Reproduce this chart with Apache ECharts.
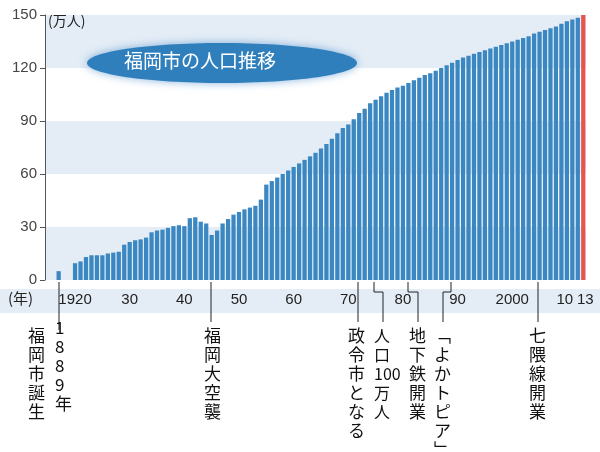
<!DOCTYPE html>
<html><head><meta charset="utf-8">
<script src="https://cdn.jsdelivr.net/npm/echarts@6/dist/echarts.min.js"></script>
<style>body{margin:0}#c{width:600px;height:452px}</style></head>
<body><div id="c"></div>
<script>
// years: two blank slots, 1889, two blank slots (axis break), then 1920-2013
var years = ['', '', '1889', '', ''];
for (var y = 1920; y <= 2013; y++) years.push(String(y));
var pop1889 = 5;
var pop = [9.5, 10.5, 13, 14, 14, 14, 15, 15.5, 16, 20,
  21.5, 22.5, 23, 24, 27, 28, 28.5, 29.5, 30.5, 31,
  30.5, 35, 35.5, 33, 32, 25.5, 28, 32, 34.5, 37,
  38.5, 40, 41, 42, 45.5, 54, 56, 58, 60, 62,
  64, 66, 68, 70, 72, 74.5, 77, 80, 83, 86,
  88, 91, 94.5, 97, 100, 102, 104, 106, 107.5, 109,
  110, 111.5, 113, 114.5, 116, 117, 118.5, 120, 121.5, 123,
  124.5, 126, 127, 128, 129, 130, 131, 132, 133, 134,
  135, 136, 137, 138, 139.5, 140.5, 141.5, 142.5, 143.5, 145,
  146.5, 147.5, 148.5, 150];
var yTicks = [0, 30, 60, 90, 120, 150];

var values = [null, null, pop1889, null, null].concat(pop);
var data = values.map(function (v, i) {
  if (i === values.length - 1) return {value: v, itemStyle: {color: '#e8554e'}};
  return v;
});
function shortLabel(s) {
  var n = +s;
  if (n === 1920 || n === 2000) return s;
  if (n === 2013) return ' 13';
  if (n === 2010) return '10 ';
  if (n > 1920 && n % 10 === 0) return s.slice(2);
  return '';
}

var chart = echarts.init(document.getElementById('c'));
var vtext = function (t) { return t.split('').join('\n'); };
var ann = {fontSize: 17, fill: '#111', fontFamily: 'Noto Sans CJK JP', lineHeight: 19};
chart.setOption({
  animation: false,
  grid: {left: 45, right: 14, top: 15, bottom: 172},
  xAxis: {
    type: 'category', data: years,
    axisLine: {show: false},
    axisTick: {alignWithLabel: true, length: 4, lineStyle: {color: '#555'},
      interval: function (i, s) { return s !== '' && (+s % 5 === 0 || s === '2013'); }},
    axisLabel: {interval: 0, formatter: shortLabel, fontSize: 15, color: '#222',
      fontFamily: 'Liberation Sans', margin: 12}
  },
  yAxis: {
    type: 'value', min: 0, max: 150, interval: 30,
    axisLine: {show: true, lineStyle: {color: '#555'}},
    axisTick: {show: true, length: 5},
    axisLabel: {fontSize: 15, color: '#444', fontFamily: 'Liberation Sans', margin: 8},
    splitLine: {show: false},
    splitArea: {show: true, areaStyle: {color: ['#e4edf6', '#ffffff']}}
  },
  series: [{type: 'bar', data: data, barCategoryGap: '22%', itemStyle: {color: '#3a87c2'}}],
  graphic: {elements: [
    {type: 'rect', z: -1, shape: {x: 0, y: 289, width: 600, height: 24}, style: {fill: '#e4edf6'}},
    {type: 'text', z: 100, left: 8, top: 291, style: {text: '(年)', fontSize: 15, fill: '#222', fontFamily: 'Noto Sans CJK JP'}},
    {type: 'text', z: 100, left: 48, top: 14, style: {text: '(万人)', fontSize: 14, fill: '#222', fontFamily: 'Noto Sans CJK JP'}},
    {type: 'ellipse', z: 100, shape: {cx: 222, cy: 63, rx: 135, ry: 20}, style: {fill: '#2f7fbd', shadowBlur: 8, shadowColor: 'rgba(60,130,200,0.6)'}},
    {type: 'text', z: 101, left: 124, top: 51, style: {text: '福岡市の人口推移', fontSize: 19, fill: '#fff', fontFamily: 'Noto Sans CJK JP'}},
    // annotation leader lines
    {type: 'polyline', z: 100, shape: {points: [[59, 282], [59, 330]]}, style: {stroke: '#222', lineWidth: 1}},
    {type: 'polyline', z: 100, shape: {points: [[211, 282], [211, 322]]}, style: {stroke: '#222', lineWidth: 1}},
    {type: 'polyline', z: 100, shape: {points: [[358, 282], [358, 322]]}, style: {stroke: '#222', lineWidth: 1}},
    {type: 'polyline', z: 100, shape: {points: [[374, 282], [374, 292], [383, 292], [383, 322]]}, style: {stroke: '#222', lineWidth: 1}},
    {type: 'polyline', z: 100, shape: {points: [[408, 282], [408, 292], [418, 292], [418, 322]]}, style: {stroke: '#222', lineWidth: 1}},
    {type: 'polyline', z: 100, shape: {points: [[451, 282], [451, 292], [443, 292], [443, 322]]}, style: {stroke: '#222', lineWidth: 1}},
    {type: 'polyline', z: 100, shape: {points: [[538, 282], [538, 322]]}, style: {stroke: '#222', lineWidth: 1}},
    // annotation texts (vertical)
    {type: 'text', z: 100, left: 28, top: 326, style: Object.assign({text: vtext('福岡市誕生')}, ann)},
    {type: 'text', z: 100, left: 55, top: 318, style: Object.assign({text: vtext('1889年')}, ann)},
    {type: 'text', z: 100, left: 204, top: 326, style: Object.assign({text: vtext('福岡大空襲')}, ann)},
    {type: 'text', z: 100, left: 348, top: 326, style: Object.assign({text: vtext('政令市となる')}, ann)},
    {type: 'text', z: 100, left: 374, top: 326, style: Object.assign({text: '人\n口\n100\n万\n人'}, ann, {fontSize: 16})},
    {type: 'text', z: 100, left: 409, top: 326, style: Object.assign({text: vtext('地下鉄開業')}, ann)},
    {type: 'text', z: 100, left: 434, top: 326, style: Object.assign({text: vtext('﹁よかトピア﹂')}, ann)},
    {type: 'text', z: 100, left: 529, top: 326, style: Object.assign({text: vtext('七隈線開業')}, ann)}
  ]}
});
</script></body></html>
